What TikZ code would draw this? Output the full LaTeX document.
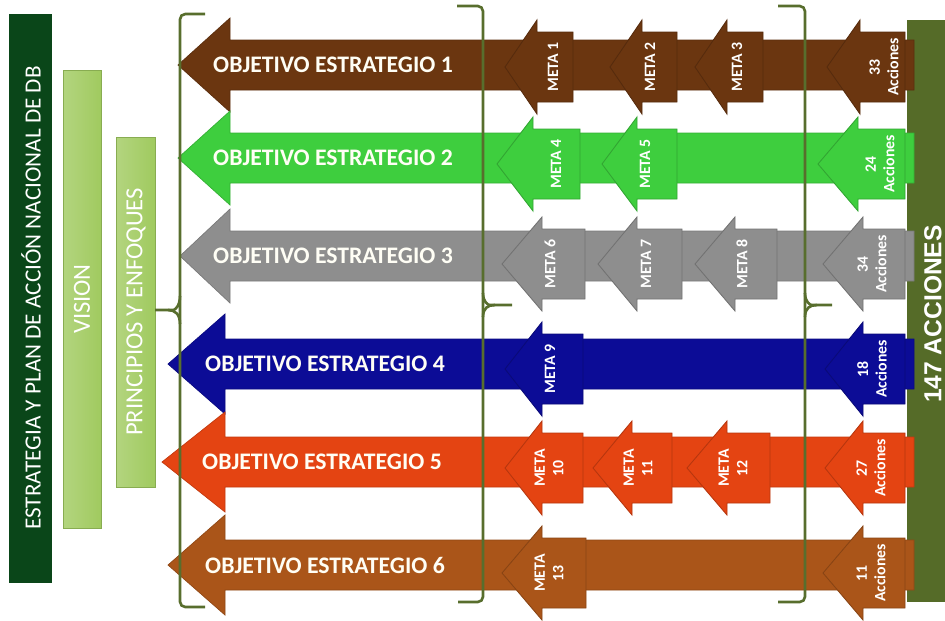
\documentclass[tikz,border=0pt]{standalone}
\usepackage{fontspec}
\setmainfont{Carlito}
\newfontfamily\arialfont{Liberation Sans}
\usepackage{tikz}

\definecolor{cafeuno}{RGB}{107,54,16}
\definecolor{verdedos}{RGB}{62,206,62}
\definecolor{gristres}{RGB}{142,142,142}
\definecolor{azulcuatro}{RGB}{12,12,150}
\definecolor{rojocinco}{RGB}{228,68,18}
\definecolor{cafeseis}{RGB}{170,85,25}
\definecolor{verdeoscuro}{RGB}{10,70,25}
\definecolor{verdeclaro}{RGB}{160,202,95}
\definecolor{verdetotal}{RGB}{85,107,40}
\definecolor{llavecolor}{RGB}{88,110,45}

\tikzset{
    obj arrow/.style={line width=0.4pt},
    obj text/.style={text=white!96!yellow, font=\bfseries\fontsize{13.5}{16}\selectfont},
    meta arrow/.style={line width=0.5pt},
    meta text/.style={rotate=90, text=white, align=center, inner sep=0pt,
        font=\bfseries\fontsize{9}{10.5}\selectfont},
    barra text/.style={rotate=90, text=white, font=\fontsize{14}{16}\selectfont},
    total text/.style={rotate=90, text=white, font=\arialfont\bfseries\fontsize{14}{16}\selectfont},
    llave/.style={draw=llavecolor, line width=1.5pt, rounded corners=3pt}}

% small arrow: name, colour, tip x, base x, right x, centre y, text x, text
\newcommand{\metaflecha}[8]{%
    \filldraw[meta arrow, fill=#2, draw=#2!80!black] (#3,#6) -- (#4,#6-47) -- (#4,#6-35) -- (#5,#6-35) -- (#5,#6+35) -- (#4,#6+35) -- (#4,#6+47) -- cycle;
    \node[meta text] (#1) at (#7,#6) {#8};}

\begin{document}
\begin{tikzpicture}[x=0.02cm, y=-0.02cm]
    \useasboundingbox (0,0) rectangle (945,620);

    % total bar
    \fill[verdetotal] (907,20) rectangle (945,602);

    % left bars
    \fill[verdeoscuro] (9,14) rectangle (52,583);
    \shadedraw[left color=verdeclaro!80!white, right color=verdeclaro, draw=verdeclaro!85!black] (63,70) rectangle (101,528);
    \shadedraw[left color=verdeclaro!80!white, right color=verdeclaro, draw=verdeclaro!85!black] (116,137) rectangle (155,487);
    \node[barra text, font=\fontsize{13.2}{16}\selectfont] (E) at (31,298) {ESTRATEGIA Y PLAN DE ACCIÓN NACIONAL DE DB};
    \node[barra text] (V) at (82,299) {VISION};
    \node[barra text] (P) at (136,312) {PRINCIPIOS Y ENFOQUES};

    % objetivos
    \filldraw[obj arrow, fill=cafeuno, draw=cafeuno!85!black] (178,65) -- (230,18) -- (230,40) -- (914,40) -- (914,90) -- (230,90) -- (230,112) -- cycle;
    \filldraw[obj arrow, fill=verdedos, draw=verdedos!85!black] (178,158) -- (230,111) -- (230,133) -- (914,133) -- (914,183) -- (230,183) -- (230,205) -- cycle;
    \filldraw[obj arrow, fill=gristres, draw=gristres!85!black] (180,256) -- (230,209) -- (230,231) -- (914,231) -- (914,281) -- (230,281) -- (230,303) -- cycle;
    \filldraw[obj arrow, fill=azulcuatro, draw=azulcuatro!85!black] (168,364) -- (225,314) -- (225,339) -- (914,339) -- (914,389) -- (225,389) -- (225,414) -- cycle;
    \filldraw[obj arrow, fill=rojocinco, draw=rojocinco!85!black] (162,462) -- (225,412) -- (225,437) -- (914,437) -- (914,487) -- (225,487) -- (225,512) -- cycle;
    \filldraw[obj arrow, fill=cafeseis, draw=cafeseis!85!black] (168,565) -- (225,515) -- (225,540) -- (914,540) -- (914,590) -- (225,590) -- (225,615) -- cycle;

    \node[obj text] (O1) at (333,65) {OBJETIVO ESTRATEGIO 1};
    \node[obj text] (O2) at (333,158) {OBJETIVO ESTRATEGIO 2};
    \node[obj text] (O3) at (333,256) {OBJETIVO ESTRATEGIO 3};
    \node[obj text] (O4) at (325,364) {OBJETIVO ESTRATEGIO 4};
    \node[obj text] (O5) at (322,462) {OBJETIVO ESTRATEGIO 5};
    \node[obj text] (O6) at (325,565) {OBJETIVO ESTRATEGIO 6};

    % metas
    \metaflecha{M1}{cafeuno}{505}{537}{573}{67}{553}{META 1}
    \metaflecha{M2}{cafeuno}{610}{642}{677}{67}{650}{META 2}
    \metaflecha{M3}{cafeuno}{695}{727}{763}{67}{737}{META 3}
    \metaflecha{A1}{cafeuno}{827}{860}{905}{67}{884}{33\\Acciones}
    \metaflecha{M4}{verdedos}{497}{533}{580}{164}{556}{META 4}
    \metaflecha{M5}{verdedos}{602}{637}{677}{164}{645}{META 5}
    \metaflecha{A2}{verdedos}{818}{858}{905}{164}{880}{24\\Acciones}
    \metaflecha{M6}{gristres}{502}{542}{585}{264}{550}{META 6}
    \metaflecha{M7}{gristres}{598}{637}{682}{264}{646}{META 7}
    \metaflecha{M8}{gristres}{695}{735}{777}{264}{742}{META 8}
    \metaflecha{A3}{gristres}{823}{863}{905}{264}{872}{34\\Acciones}
    \metaflecha{M9}{azulcuatro}{505}{542}{583}{369}{550}{META 9}
    \metaflecha{A4}{azulcuatro}{825}{863}{905}{369}{872}{18\\Acciones}
    \metaflecha{M10}{rojocinco}{505}{542}{583}{468}{549}{META\\10}
    \metaflecha{M11}{rojocinco}{593}{632}{672}{468}{638}{META\\11}
    \metaflecha{M12}{rojocinco}{687}{727}{770}{468}{733}{META\\12}
    \metaflecha{A5}{rojocinco}{825}{863}{905}{468}{871}{27\\Acciones}
    \metaflecha{M13}{cafeseis}{502}{542}{586}{573}{549}{META\\13}
    \metaflecha{A6}{cafeseis}{823}{863}{905}{573}{871}{11\\Acciones}

    % braces
    \draw[llave] (205,14) -- (180,14) -- (180,607) -- (205,607);
    \draw[llave] (180,296) .. controls (180,306) and (175,310) .. (168,310) -- (155,310);
    \draw[llave] (180,324) .. controls (180,314) and (175,310) .. (168,310);

    \draw[llave] (457,6) -- (483,6) -- (483,602) -- (458,602);
    \draw[llave] (483,293) .. controls (483,302) and (488,305) .. (495,305) -- (512,305);
    \draw[llave] (483,317) .. controls (483,308) and (488,305) .. (495,305);

    \draw[llave] (778,6) -- (805,6) -- (805,602) -- (778,602);
    \draw[llave] (805,293) .. controls (805,302) and (810,305) .. (817,305) -- (832,305);
    \draw[llave] (805,317) .. controls (805,308) and (810,305) .. (817,305);

    \node[total text] (T) at (933,314) {147 ACCIONES};

\end{tikzpicture}
\end{document}
